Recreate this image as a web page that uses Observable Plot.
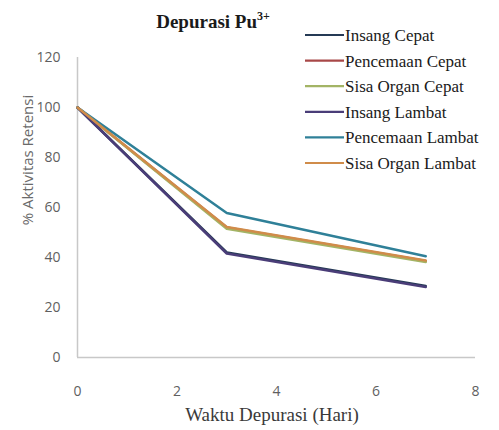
<!DOCTYPE html>
<html>
<head>
<meta charset="utf-8">
<script src="https://cdn.jsdelivr.net/npm/d3@7"></script>
<script src="https://cdn.jsdelivr.net/npm/@observablehq/plot@0.6"></script>
<style>
  html, body { margin: 0; padding: 0; background: #fff; }
  #chart { position: relative; width: 499px; height: 430px; }
</style>
</head>
<body>
<div id="chart"></div>
<script>
const days = [0, 3, 7];
const seriesNames = ["Insang Cepat", "Pencemaan Cepat", "Sisa Organ Cepat", "Insang Lambat", "Pencemaan Lambat", "Sisa Organ Lambat"];
const insangCepat = [100, 42, 28.6];
const pencemaanCepat = [100, 52, 38.6];
const sisaOrganCepat = [100, 51.5, 38.2];
const insangLambat = [100, 41.6, 28.2];
const pencemaanLambat = [100, 57.8, 40.5];
const sisaOrganLambat = [100, 52.2, 38.8];
const seriesColors = ["#253a55", "#a84848", "#a3b465", "#4a3d78", "#2f8098", "#d08c4a"];
const xTicks = [0, 2, 4, 6, 8];
const yTicks = [0, 20, 40, 60, 80, 100, 120];

const allValues = [insangCepat, pencemaanCepat, sisaOrganCepat, insangLambat, pencemaanLambat, sisaOrganLambat];
const data = [];
seriesNames.forEach((name, i) => days.forEach((d, j) => data.push({series: name, day: d, value: allValues[i][j]})));

const sans = "'Open Sans', 'Liberation Sans', sans-serif";
const serif = "'Liberation Serif', 'DejaVu Serif', serif";

const plot = Plot.plot({
  width: 499,
  height: 430,
  marginLeft: 77,
  marginRight: 24,
  marginTop: 57,
  marginBottom: 73,
  style: {fontFamily: sans, fontSize: "14px", color: "#5f5f5f", background: "#fff"},
  x: {domain: [0, 8], ticks: xTicks, tickSize: 0, tickPadding: 29, label: null},
  y: {domain: [0, 120], ticks: yTicks, tickSize: 0, tickPadding: 17, label: null},
  color: {domain: seriesNames, range: seriesColors},
  marks: [
    Plot.ruleX([0], {stroke: "#c8c8c8", strokeWidth: 1.5}),
    Plot.ruleY([0], {stroke: "#c8c8c8", strokeWidth: 1.5}),
    Plot.line(data, {x: "day", y: "value", z: "series", stroke: "series", strokeWidth: 2.5, curve: "linear"})
  ]
});

const svg = d3.select(plot);
// Title
const title = svg.append("text")
  .attr("x", 213).attr("y", 28)
  .style("text-anchor", "middle")
  .style("font-family", serif).style("font-weight", "bold").style("font-size", "19px")
  .attr("fill", "#1a1a1a");
title.append("tspan").text("Depurasi Pu");
title.append("tspan").style("font-size", "12px").attr("dy", -8).text("3+");

// Axis titles
svg.append("text")
  .attr("transform", "translate(33,160) rotate(-90)")
  .style("text-anchor", "middle")
  .style("font-family", sans).style("font-size", "15px").attr("fill", "#6a6a6a")
  .text("% Aktivitas Retensi");
svg.append("text")
  .attr("x", 272).attr("y", 421)
  .style("text-anchor", "middle")
  .style("font-family", serif).style("font-size", "19px").attr("fill", "#3a3a3a")
  .text("Waktu Depurasi (Hari)");

// Legend
const legend = svg.append("g").style("font-family", serif).style("font-size", "17px").attr("fill", "#1a1a1a");
seriesNames.forEach((name, i) => {
  const y = 35 + i * 25.6;
  legend.append("line").attr("x1", 305).attr("x2", 344).attr("y1", y).attr("y2", y)
    .attr("stroke", seriesColors[i]).attr("stroke-width", 2.2);
  legend.append("text").attr("x", 345).attr("y", y).attr("dy", "0.35em")
    .style("text-anchor", "start").text(name);
});

document.getElementById("chart").appendChild(plot);
</script>
</body>
</html>
